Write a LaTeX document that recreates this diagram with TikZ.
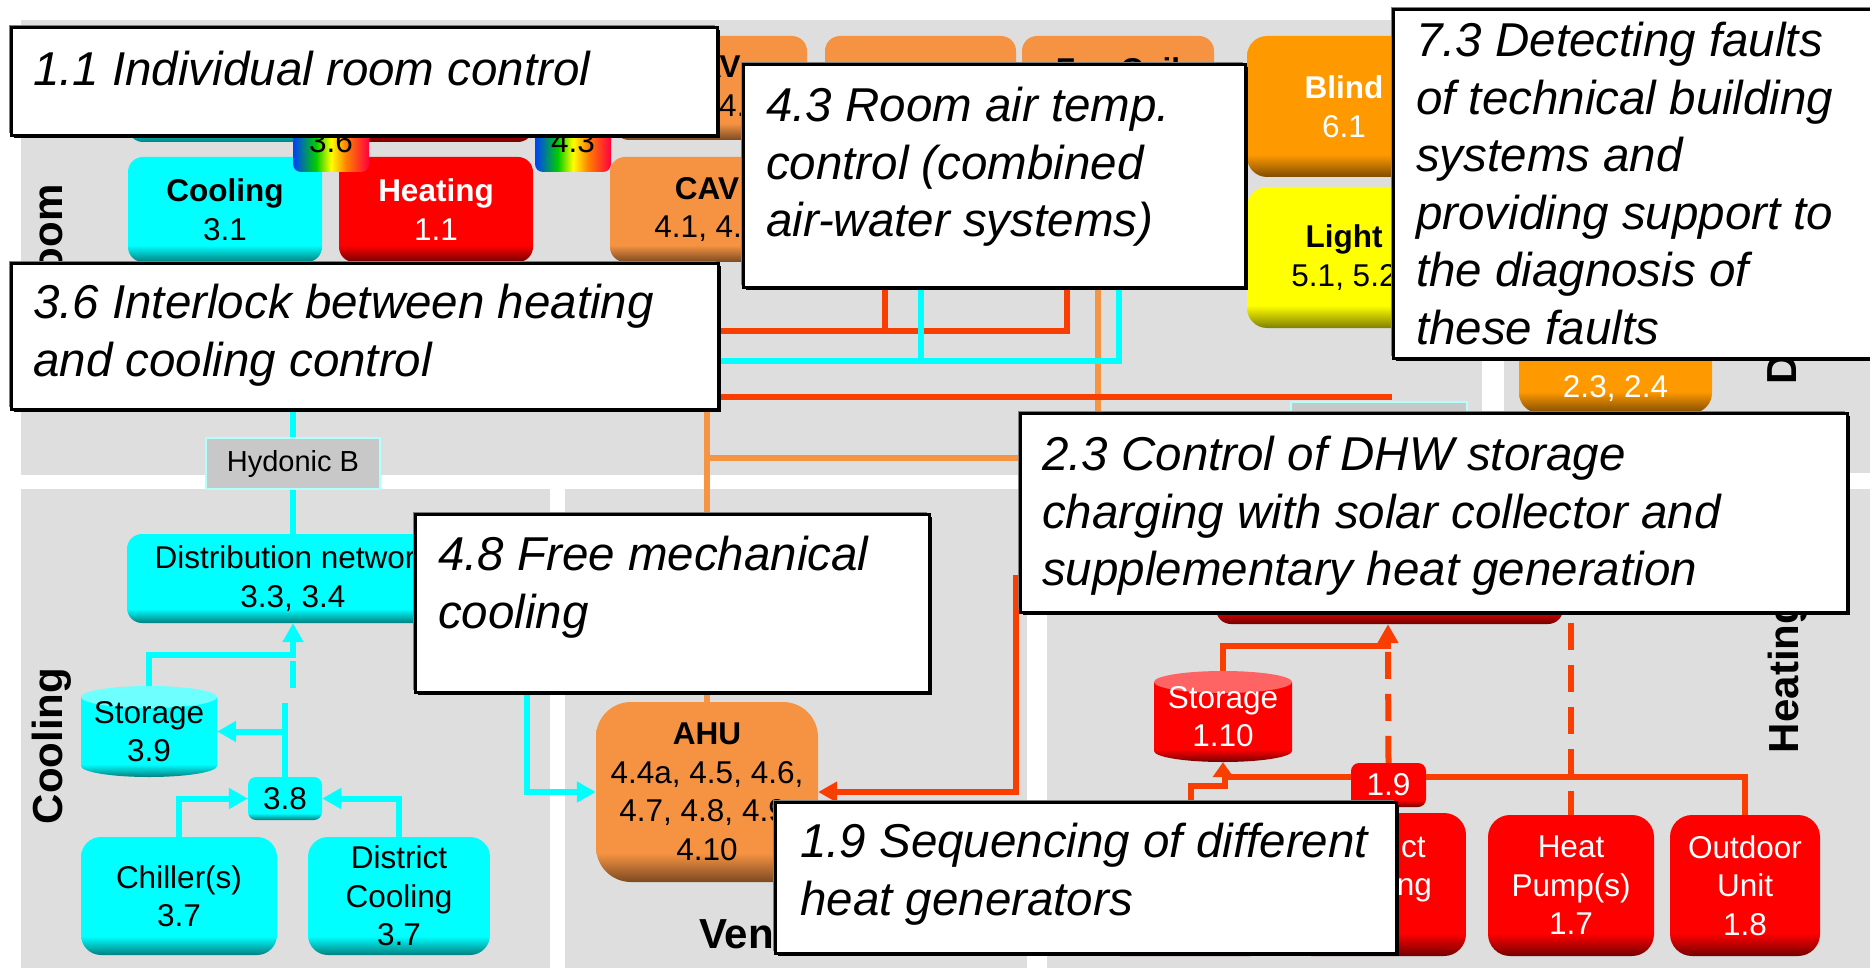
\documentclass[tikz,border=0pt]{standalone}
\usepackage{fontspec}
\setmainfont{Liberation Sans}
\usepackage{tikz}
\usetikzlibrary{arrows.meta,positioning,shadows,calc}

\definecolor{bggray}{RGB}{222,222,222}
\definecolor{hotline}{RGB}{248,62,0}
\definecolor{coldline}{RGB}{0,255,255}
\definecolor{airline}{RGB}{245,148,66}
\definecolor{ahuorange}{RGB}{245,147,66}
\definecolor{amber}{RGB}{255,153,0}
\definecolor{hydgray}{RGB}{200,200,200}
\definecolor{cyltopc}{RGB}{110,255,255}
\definecolor{cyltopr}{RGB}{255,100,100}

\pgfdeclareverticalshading{shcyan}{100bp}{color(0bp)=(coldline!50!black); color(25bp)=(coldline!50!black); color(33bp)=(coldline); color(100bp)=(coldline)}
\pgfdeclareverticalshading{shred}{100bp}{color(0bp)=(red!45!black); color(25bp)=(red!45!black); color(33bp)=(red); color(100bp)=(red)}
\pgfdeclareverticalshading{shorange}{100bp}{color(0bp)=(ahuorange!50!black); color(25bp)=(ahuorange!50!black); color(33bp)=(ahuorange); color(100bp)=(ahuorange)}
\pgfdeclareverticalshading{shamber}{100bp}{color(0bp)=(amber!50!black); color(25bp)=(amber!50!black); color(33bp)=(amber); color(100bp)=(amber)}
\pgfdeclareverticalshading{shyellow}{100bp}{color(0bp)=(yellow!50!black); color(25bp)=(yellow!50!black); color(33bp)=(yellow); color(100bp)=(yellow)}
\pgfdeclarehorizontalshading{rainbowsh}{100bp}{color(0bp)=(blue!75!cyan); color(25bp)=(blue!75!cyan); color(40bp)=(green!80!black); color(50bp)=(yellow); color(60bp)=(orange); color(75bp)=(red!75!magenta); color(100bp)=(red!75!magenta)}

\begin{document}
\begin{tikzpicture}[
  x=1pt, y=-1pt,
  blk/.style={rounded corners=15pt, align=center, inner sep=0pt, font=\fontsize{31.5}{38.5}\selectfont},
  cbox/.style={blk, shading=shcyan, text=black},
  rbox/.style={blk, shading=shred, text=white},
  obox/.style={blk, shading=shorange, text=black},
  abox/.style={blk, shading=shamber, text=white},
  ybox/.style={blk, shading=shyellow, text=black},
  rain/.style={blk, shading=rainbowsh, rounded corners=8pt, text=black},
  hyd/.style={draw=coldline!30!white, line width=1.5pt, fill=hydgray, inner sep=0pt, font=\fontsize{29}{35}\selectfont},
  note/.style={draw=black, line width=3pt, fill=white, inner sep=0pt,
    general shadow={fill=black!50, shadow xshift=-2.5pt, shadow yshift=2.5pt},
    general shadow={fill=black, shadow xshift=2.5pt, shadow yshift=-2.5pt}},
  notetxt/.style={anchor=north west, inner sep=0pt, align=left, font=\fontsize{47.5}{57.5}\selectfont\itshape},
  reg/.style={inner sep=0pt, font=\fontsize{42}{50}\selectfont\bfseries},
  hot/.style={draw=hotline, line width=6pt},
  cold/.style={draw=coldline, line width=6pt},
  air/.style={draw=airline, line width=5.5pt},
  dsh/.style={dash pattern=on 27pt off 15pt}
]
\useasboundingbox (0,0) rectangle (1870,968);
\fill[white] (0,0) rectangle (1870,968);

% zones
\fill[bggray] (21,20) rectangle (1482,475);
\fill[bggray] (1504,20) rectangle (1870,473);
\fill[bggray] (21,489) rectangle (550,968);
\fill[bggray] (565,489) rectangle (1027,968);
\fill[bggray] (1047,489) rectangle (1870,968);

\node[reg, rotate=90, anchor=base] (lroom) at (62,244) {Room};
\node[reg, rotate=90, anchor=base] (lcool) at (62,746) {Cooling};
\node[reg, rotate=90, anchor=base] (lheat) at (1798,676) {Heating};
\node[reg, rotate=90, anchor=base] (ldhw) at (1796,334) {DHW};
\node[reg, anchor=base west] (lvent) at (699,948) {Ventilation};

% room
\node[cbox, minimum width=194pt, minimum height=106pt] (cooltop) at (225,89) {};
\node[rbox, minimum width=194pt, minimum height=106pt] (heattop) at (436,89) {};
\node[obox, minimum width=193pt, minimum height=104pt] (vav) at (710.5,88) {\textbf{VAV}\\4.1, 4.2};
\node[obox, minimum width=191pt, minimum height=104pt] (boxtwo) at (920.5,88) {};
\node[obox, minimum width=192pt, minimum height=104pt, text depth=38.5pt] (fancoil) at (1118,88) {\textbf{Fan Coil}};
\node[abox, minimum width=194pt, minimum height=141pt, rounded corners=20pt] (blind) at (1344,106.5) {\textbf{Blind}\\6.1};
\node[ybox, minimum width=194pt, minimum height=141pt, rounded corners=20pt] (light) at (1344,257.5) {\textbf{Light}\\5.1, 5.2};
\node[cbox, minimum width=194pt, minimum height=105pt] (cool31) at (225,209.5) {\textbf{Cooling}\\3.1};
\node[rbox, minimum width=194pt, minimum height=105pt] (heat11) at (436,209.5) {\textbf{Heating}\\1.1};
\node[obox, minimum width=194pt, minimum height=105pt] (cav) at (707,209.5) {\textbf{CAV}\\4.1, 4.2};
\node[rain, minimum width=76pt, minimum height=60pt] (il36) at (331,142) {3.6};
\node[rain, minimum width=76pt, minimum height=60pt] (il43) at (573,142) {4.3};
\node[hyd, minimum width=174pt, minimum height=51pt] (hydB) at (293,463.5) {Hydonic B};
\node[hyd, minimum width=176pt, minimum height=51pt] (hydA) at (1379,427.5) {};
\node[abox, minimum width=193pt, minimum height=133pt, rounded corners=20pt] (dhw) at (1615.5,346.5) {};
\node[inner sep=0pt, text=white, anchor=base, font=\fontsize{31.5}{38.5}\selectfont] (t24) at ([yshift=16pt]dhw.south) {2.3, 2.4};

% cooling
\node[cbox, minimum width=332pt, minimum height=89pt] (dist) at (293,578.5) {Distribution network\\3.3, 3.4};
\shade[shading=shcyan] (81,697) -- (81,766) arc[start angle=180, end angle=360, x radius=68pt, y radius=11pt] -- (217,697) -- cycle;
\fill[cyltopc] (149,697) ellipse[x radius=68pt, y radius=11pt];
\node[blk, minimum width=136pt, minimum height=91pt] (stor39) at (149,731.5) {Storage\\3.9};
\node[cbox, minimum width=74pt, minimum height=43pt, rounded corners=8pt] (c38) at (285,798.5) {3.8};
\node[cbox, minimum width=196pt, minimum height=118pt, rounded corners=20pt] (chiller) at (179,896) {Chiller(s)\\3.7};
\node[cbox, minimum width=182pt, minimum height=118pt, rounded corners=20pt] (distcool) at (399,896) {District\\Cooling\\3.7};

% ventilation
\node[obox, minimum width=222pt, minimum height=180pt, rounded corners=35pt] (ahu) at (707,792) {\textbf{AHU}\\4.4a, 4.5, 4.6,\\4.7, 4.8, 4.9,\\4.10};

% heating
\node[rbox, minimum width=347pt, minimum height=104pt] (dhwdist) at (1389.5,572) {};
\shade[shading=shred] (1154,682) -- (1154,751) arc[start angle=180, end angle=360, x radius=69pt, y radius=11pt] -- (1292,682) -- cycle;
\fill[cyltopr] (1223,682) ellipse[x radius=69pt, y radius=11pt];
\node[blk, minimum width=138pt, minimum height=91pt, text=white] (st110) at (1223,716.5) {Storage\\1.10};
\node[rbox, minimum width=75pt, minimum height=44pt, rounded corners=8pt] (n19) at (1388.5,785) {1.9};
\node[rbox, minimum width=174pt, minimum height=143pt, rounded corners=22pt] (boiler) at (1185,884.5) {};
\node[rbox, minimum width=177pt, minimum height=143pt, rounded corners=22pt] (distheat) at (1377.5,884.5) {District\\Heating\\1.5};
\node[rbox, minimum width=166pt, minimum height=141pt, rounded corners=22pt] (heatpump) at (1571,885.5) {Heat\\Pump(s)\\1.7};
\node[rbox, minimum width=150pt, minimum height=141pt, rounded corners=22pt] (outdoor) at (1745,885.5) {Outdoor\\Unit\\1.8};

\coordinate (hA) at (885,331);
\coordinate (hB) at (1067,331);
\coordinate (hC) at (1392,397);
\coordinate (cA) at (921,361);
\coordinate (cB) at (1119,361);
\coordinate (aA) at (1098,458);
\coordinate (hydBin) at (293,380);
\coordinate (cj1) at (285,703);
\coordinate (cj2) at (293,655);
\coordinate (fcin) at (527,620);
\coordinate (hin) at (1060,578);
\coordinate (hk) at (1016,578);
\coordinate (hj19) at (1388,646);
\coordinate (hj2) at (1223,777);
\coordinate (hs1) at (1191,805);
\coordinate (hs2) at (1225,786);

\draw[air] (fancoil.south -| aA) -- (aA) -- (aA -| cav.south);
\draw[air] (cav.south) -- (ahu.north);
\draw[hot] (heat11.south) |- (hA);
\draw[hot] (boxtwo.south -| hA) -- (hA) -- (hB) -- (fancoil.south -| hB);
\draw[hot] (heat11.south) |- (hC);
\draw[cold] (cool31.south) |- (cA);
\draw[cold] (boxtwo.south -| cA) -- (cA) -- (cB) -- (fancoil.south -| cB);
\draw[cold] (hydBin) -- (hydB.north);
\draw[cold] (hydB.south) -- (dist.north);

\draw[cold, -{Triangle[length=19pt,width=20pt]}] (chiller.north) |- (c38.west);
\draw[cold, -{Triangle[length=19pt,width=20pt]}] (distcool.north) |- (c38.east);
\draw[cold] (c38.north) -- (cj1);
\draw[cold, -{Triangle[length=19pt,width=20pt]}] (c38.north |- stor39.east) -- (stor39.east);
\draw[cold, dsh, dash phase=27pt] (cj1 -| cj2) -- (cj2);
\draw[cold, -{Triangle[length=19pt,width=20pt]}] (stor39.north) |- (cj2) -- (dist.south);
\draw[cold, -{Triangle[length=19pt,width=20pt]}] (fcin) |- (ahu.west);

\draw[hot, -{Triangle[length=19pt,width=20pt]}] (hin) -- (hk) |- (ahu.east);
\draw[hot, -{Triangle[length=19pt,width=20pt]}] (st110.north) |- (hj19) -- (hj19 |- dhwdist.south);
\draw[hot, dsh] (n19.north) -- (hj19);
\draw[hot] (outdoor.north) |- (hj2 -| n19.east);
\draw[hot] (hj2 -| n19.west) -- (hj2);
\draw[hot] (hs1) |- (hs2) -- (hs2 |- hj2);
\draw[hot, -{Triangle[length=15pt,width=20pt]}] (hj2) -- (st110.south);
\draw[hot, dsh] (dhw.south -| heatpump.north) -- (heatpump.north);

% notes
\node[note, minimum width=706pt, minimum height=108pt, anchor=north west] (c11) at (10,26) {};
\node[notetxt] (t11) at ([shift={(23,25)}]c11.north west) {1.1 Individual room control};
\node[note, minimum width=707pt, minimum height=146pt, anchor=north west] (c36) at (10,262) {};
\node[notetxt] (t36) at ([shift={(23,22)}]c36.north west) {3.6 Interlock between heating\\and cooling control};
\node[note, minimum width=502pt, minimum height=223pt, anchor=north west] (c43) at (742,63) {};
\node[notetxt] (t43) at ([shift={(24,24)}]c43.north west) {4.3 Room air temp.\\control (combined\\air-water systems)};
\node[note, minimum width=490pt, minimum height=349pt, anchor=north west] (c73) at (1392,8) {};
\node[notetxt] (t73) at ([shift={(24,14)}]c73.north west) {7.3 Detecting faults\\of technical building\\systems and\\providing support to\\the diagnosis of\\these faults};
\node[note, minimum width=827pt, minimum height=199pt, anchor=north west] (c23) at (1019,412) {};
\node[notetxt] (t23) at ([shift={(23,24)}]c23.north west) {2.3 Control of DHW storage\\charging with solar collector and\\supplementary heat generation};
\node[note, minimum width=514pt, minimum height=178pt, anchor=north west] (c48) at (414,513) {};
\node[notetxt] (t48) at ([shift={(24,23)}]c48.north west) {4.8 Free mechanical\\cooling};
\node[note, minimum width=621pt, minimum height=151pt, anchor=north west] (c19) at (774,801) {};
\node[notetxt] (t19) at ([shift={(26,22)}]c19.north west) {1.9 Sequencing of different\\heat generators};

\end{tikzpicture}
\end{document}
